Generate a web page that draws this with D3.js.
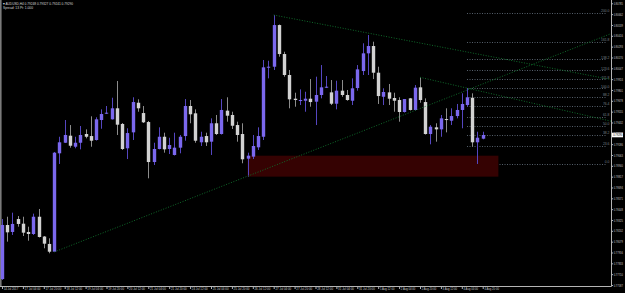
<!DOCTYPE html>
<html><head><meta charset="utf-8">
<script src="https://cdn.jsdelivr.net/npm/d3@7"></script>
<style>html,body{margin:0;padding:0;background:#000;overflow:hidden}</style>
</head><body>
<script>
// ---- data (AUDUSD, H4) ----
const opens=[0.77655,0.78268,0.78189,0.78336,0.78283,0.78189,0.78166,0.78362,0.78137,0.78053,
0.77965,0.79082,0.79202,0.79282,0.79157,0.79202,0.79301,0.79278,0.79233,0.79460,
0.79532,0.79468,0.79593,0.79415,0.79139,0.79320,0.79656,0.79539,0.79437,0.78983,
0.79131,0.79270,0.79131,0.79063,0.79146,0.79278,0.79619,0.79536,0.79207,0.79278,
0.79214,0.79423,0.79301,0.79566,0.79517,0.79403,0.79301,0.79021,0.79044,0.79150,
0.79270,0.80054,0.80065,0.80538,0.80209,0.79971,0.79702,0.79676,0.79679,0.79702,
0.79668,0.79744,0.79827,0.79774,0.79645,0.79793,0.79744,0.79679,0.79823,0.80016,
0.80217,0.80300,0.79997,0.79724,0.79774,0.79710,0.79687,0.79551,0.79706,0.79574,
0.79831,0.79664,0.79301,0.79377,0.79354,0.79471,0.79452,0.79505,0.79574,0.79630,
0.79713,0.79207,0.79248];
const highs=[0.78336,0.78362,0.78408,0.78370,0.78362,0.78249,0.78397,0.78450,0.78143,0.78117,
0.79097,0.79270,0.79460,0.79403,0.79270,0.79392,0.79354,0.79502,0.79491,0.79581,
0.79619,0.79713,0.79903,0.79426,0.79366,0.79718,0.79695,0.79619,0.79449,0.79202,
0.79377,0.79316,0.79259,0.79316,0.79290,0.79698,0.79687,0.79581,0.79327,0.79316,
0.79479,0.79517,0.79698,0.79718,0.79554,0.79441,0.79423,0.79089,0.79290,0.79377,
0.80141,0.80133,0.80652,0.80544,0.80235,0.80028,0.79770,0.79808,0.79781,0.79925,
0.79952,0.80084,0.79959,0.79914,0.79906,0.79914,0.79801,0.79933,0.80084,0.80331,
0.80425,0.80349,0.80065,0.79820,0.79869,0.79770,0.79718,0.79698,0.79710,0.79857,
0.79945,0.79706,0.79403,0.79423,0.79517,0.79593,0.79593,0.79642,0.79763,0.79820,
0.79763,0.79327,0.79327];
const lows=[0.77644,0.78079,0.78155,0.78249,0.78143,0.78090,0.78155,0.78126,0.78004,0.77947,
0.77962,0.78961,0.79199,0.79146,0.79139,0.79127,0.79252,0.79157,0.79227,0.79361,
0.79528,0.79465,0.79290,0.79120,0.79017,0.79233,0.79554,0.79426,0.78798,0.78949,
0.79127,0.79089,0.79074,0.79057,0.79082,0.79225,0.79423,0.79202,0.79165,0.79165,
0.79063,0.79290,0.79295,0.79441,0.79358,0.79214,0.78969,0.78817,0.79017,0.79120,
0.79233,0.79933,0.80028,0.80179,0.79952,0.79593,0.79611,0.79630,0.79554,0.79611,
0.79403,0.79706,0.79823,0.79630,0.79581,0.79724,0.79679,0.79630,0.79793,0.79971,
0.79971,0.79925,0.79642,0.79630,0.79630,0.79554,0.79441,0.79545,0.79568,0.79568,
0.79656,0.79295,0.79184,0.79214,0.79270,0.79320,0.79403,0.79479,0.79366,0.79611,
0.79157,0.78961,0.79241];
const closes=[0.78268,0.78185,0.78280,0.78280,0.78181,0.78166,0.78362,0.78132,0.78056,0.77965,
0.79089,0.79207,0.79290,0.79168,0.79202,0.79290,0.79270,0.79225,0.79468,0.79528,
0.79543,0.79593,0.79407,0.79131,0.79312,0.79664,0.79593,0.79434,0.78983,0.79131,
0.79270,0.79127,0.79176,0.79146,0.79270,0.79619,0.79525,0.79225,0.79270,0.79207,
0.79423,0.79301,0.79574,0.79509,0.79395,0.79290,0.79014,0.79055,0.79165,0.79278,
0.80058,0.80065,0.80538,0.80209,0.79971,0.79695,0.79687,0.79687,0.79702,0.79664,
0.79744,0.79831,0.79838,0.79645,0.79793,0.79744,0.79687,0.79820,0.80035,0.80217,
0.80300,0.79997,0.79732,0.79778,0.79702,0.79679,0.79551,0.79698,0.79574,0.79827,
0.79687,0.79301,0.79384,0.79354,0.79479,0.79460,0.79505,0.79574,0.79642,0.79718,
0.79207,0.79259,0.79290];
const timeLabels=["14 Jul 2017","17 Jul 04:00","17 Jul 20:00","18 Jul 12:00","19 Jul 04:00","19 Jul 20:00",
"20 Jul 12:00","21 Jul 04:00","21 Jul 20:00","24 Jul 12:00","25 Jul 04:00","25 Jul 20:00",
"26 Jul 12:00","27 Jul 04:00","27 Jul 20:00","28 Jul 12:00","31 Jul 04:00","31 Jul 20:00",
"1 Aug 12:00","2 Aug 04:00","2 Aug 20:00","3 Aug 12:00","4 Aug 04:00","4 Aug 20:00"];
const priceTicks=[0.80785,0.80662,0.80539,0.80416,0.80293,0.80170,0.80047,0.79924,0.79801,
0.79678,0.79555,0.79432,0.79309,0.79186,0.79063,0.78940,0.78817,0.78694,0.78571,0.78448,
0.78325,0.78202,0.78079,0.77956,0.77833,0.77710,0.77587];
const fibLevels=[0,23.6,38.2,50,61.8,76.4,88.2,100,111.8,123.6,138.2,161.8,200];
const fibAnchor=[89,0.79820,0.78961];      // start bar, 100% price, 0% price
const zoneBox=[47,95,0.79055,0.78817];      // start bar, end bar, top, bottom
const trendLines=[[52,0.80652,110,0.79994],[10,0.77962,60,0.79125],[80,0.79945,110,0.79536]];
const symbolTitle="AUDUSD,H4";
const infoLine="Spread: 13   Pt: 1.000";

// ---- drawing ----
const W=625,H=293,plotR=611.5,plotB=286.5;
const svg=d3.select('body').append('svg').attr('width',W).attr('height',H)
  .style('display','block').style('background','#000');
const x=d3.scaleLinear().domain([0,92]).range([2,482.7]);
const y=d3.scaleLinear().domain([priceTicks[priceTicks.length-1],priceTicks[0]]).range([285,3.3]);
const FONT="'Liberation Sans',Arial,sans-serif";

svg.append('clipPath').attr('id','plot').append('rect').attr('x',0).attr('y',0).attr('width',plotR).attr('height',plotB);
const plot=svg.append('g').attr('clip-path','url(#plot)');

// fibonacci levels
const fibG=plot.append('g');
const fibPrice=L=>fibAnchor[2]+L/100*(fibAnchor[1]-fibAnchor[2]);
fibG.selectAll('line').data(fibLevels).join('line')
  .attr('x1',x(fibAnchor[0])).attr('x2',plotR-6)
  .attr('y1',d=>Math.round(y(fibPrice(d)))+0.5).attr('y2',d=>Math.round(y(fibPrice(d)))+0.5)
  .attr('stroke','#56606b').attr('stroke-width',1).attr('stroke-dasharray','1,1.5');
fibG.selectAll('text').data(fibLevels).join('text')
  .attr('x',plotR-2).attr('y',d=>y(fibPrice(d))-0.8).attr('text-anchor','end')
  .attr('font-family',FONT).attr('font-size',3.4).attr('fill','#76808c')
  .text(d=>d.toFixed(1));

// zone
plot.append('rect').attr('x',x(zoneBox[0])).attr('width',x(zoneBox[1])-x(zoneBox[0]))
  .attr('y',y(zoneBox[2])).attr('height',y(zoneBox[3])-y(zoneBox[2])).attr('fill','#350202');

// left vertical line
plot.append('line').attr('x1',0.8).attr('x2',0.8).attr('y1',0).attr('y2',plotB)
  .attr('stroke','#7a7a7a').attr('stroke-width',1.6);

// candles
const idx=d3.range(opens.length);
const bull=i=>closes[i]>=opens[i];
const cg=plot.append('g');
cg.selectAll('line.w').data(idx).join('line').attr('class','w')
  .attr('x1',i=>Math.round(x(i))+0.5).attr('x2',i=>Math.round(x(i))+0.5)
  .attr('y1',i=>y(highs[i])).attr('y2',i=>y(lows[i]))
  .attr('stroke',i=>bull(i)?'#5546c0':'#8c8c8c').attr('stroke-width',1);
cg.selectAll('rect.b').data(idx).join('rect').attr('class','b')
  .attr('x',i=>Math.round(x(i))-1.5+0.5-0.2).attr('width',3.4)
  .attr('y',i=>y(Math.max(opens[i],closes[i])))
  .attr('height',i=>Math.max(1,Math.abs(y(opens[i])-y(closes[i]))))
  .attr('fill',i=>bull(i)?'#7b68ee':'#d2d2d2');

// trend lines
plot.selectAll('line.t').data(trendLines).join('line').attr('class','t')
  .each(function(d){
    const x1=x(d[0]),y1=y(d[1]),x2=x(d[2]),y2=y(d[3]);
    const s=(y2-y1)/(x2-x1);
    d3.select(this).attr('x1',x1).attr('y1',y1).attr('x2',plotR).attr('y2',y1+s*(plotR-x1));
  })
  .attr('stroke','#0f6a2a').attr('stroke-width',1).attr('stroke-dasharray','1,1.6');

// frame
svg.append('line').attr('x1',plotR).attr('x2',plotR).attr('y1',0).attr('y2',plotB).attr('stroke','#b4b4b4');
svg.append('line').attr('x1',0).attr('x2',plotR).attr('y1',plotB).attr('y2',plotB).attr('stroke','#b4b4b4');

// price axis
const ya=svg.append('g').attr('transform',`translate(${plotR},0)`)
  .call(d3.axisRight(y).tickValues(priceTicks).tickSize(1.5).tickPadding(0.8).tickFormat(d3.format('.5f')));
ya.select('.domain').remove();
ya.selectAll('line').attr('stroke','#b4b4b4');
ya.selectAll('text').attr('font-family',FONT).attr('font-size',3.5).attr('fill','#c8c8c8')
  .attr('textLength',9).attr('lengthAdjust','spacingAndGlyphs');

// time axis
const xa=svg.append('g').attr('transform',`translate(0,${plotB})`)
  .call(d3.axisBottom(x).tickValues(timeLabels.map((_,k)=>k*4)).tickSize(2.5)
    .tickFormat((d,k)=>timeLabels[k]));
xa.select('.domain').remove();
xa.selectAll('line').attr('stroke','#b4b4b4');
xa.selectAll('text').attr('font-family',FONT).attr('font-size',3.6).attr('fill','#c8c8c8')
  .attr('text-anchor','start').attr('dx',1.2).attr('y',1.4).attr('dy','0.71em')
  .attr('textLength',(d,k)=>timeLabels[k].length*1.32).attr('lengthAdjust','spacingAndGlyphs');

// current price marker
const last=closes[closes.length-1];
svg.append('rect').attr('x',plotR+0.5).attr('y',y(last)-2.3).attr('width',11).attr('height',4.6).attr('fill','#ffffff');
svg.append('text').attr('x',plotR+1.8).attr('y',y(last)).attr('dy','0.35em')
  .attr('font-family',FONT).attr('font-size',3.5).attr('fill','#000')
  .attr('textLength',9).attr('lengthAdjust','spacingAndGlyphs').text(d3.format('.5f')(last));

// header
const f5=d3.format('.5f'),n=closes.length-1;
const head=`\u25BE ${symbolTitle} ${f5(opens[n])} ${f5(highs[n])} ${f5(lows[n])} ${f5(closes[n])}`;
svg.append('text').attr('x',3).attr('y',5.2).attr('font-family',FONT).attr('font-size',3.6).attr('fill','#d8d8d8')
  .attr('textLength',70).attr('lengthAdjust','spacingAndGlyphs').text(head);
svg.append('text').attr('x',3).attr('y',9.2).attr('font-family',FONT).attr('font-size',3.6).attr('fill','#d8d8d8')
  .attr('textLength',30).attr('lengthAdjust','spacingAndGlyphs').text(infoLine);
</script>
</body></html>
